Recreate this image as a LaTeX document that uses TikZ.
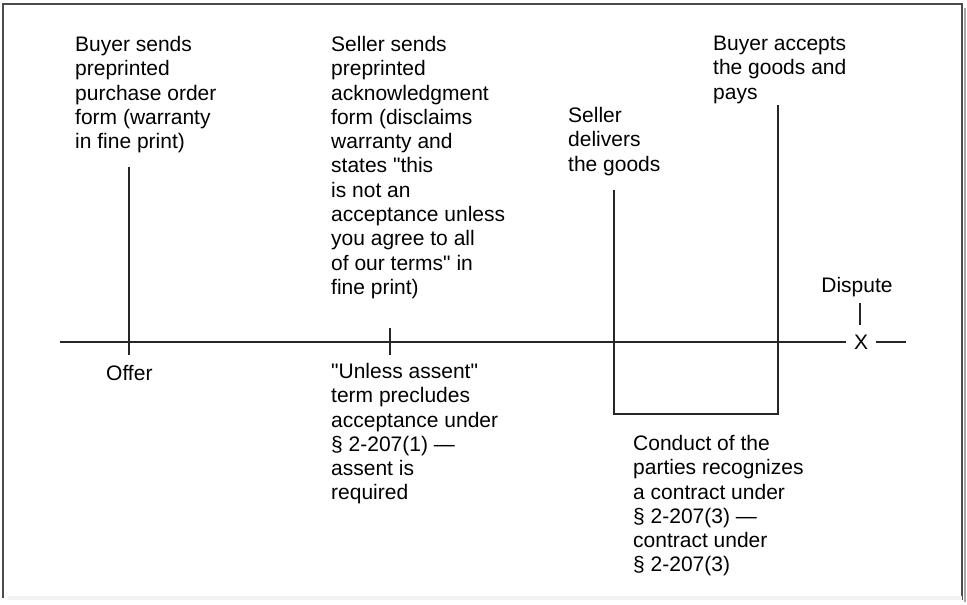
\documentclass[tikz,border=0pt]{standalone}
\usepackage{fontspec}
\setmainfont{Liberation Sans}
\begin{document}
\begin{tikzpicture}[x=1pt,y=-1pt,
  txt/.style={anchor=north west,inner sep=0pt,align=left,font=\fontsize{21}{24.3}\selectfont,execute at begin node=\strut},
  ln/.style={line width=1.2pt,black!85}]
\useasboundingbox (0,0) rectangle (967,605);
% frame
\draw[line width=1.5pt,black!70] (3,598) -- (3,4) -- (962,4) -- (962,600);
\fill[black!35] (963.5,8) rectangle (966,602);
\fill[black!5] (8,596) rectangle (962,600);
% events above the line
\node[txt] (buyer) at (75,36) {Buyer sends\\preprinted\\purchase order\\form (warranty\\in fine print)};
\node[txt] (seller) at (331,36) {Seller sends\\preprinted\\acknowledgment\\form (disclaims\\warranty and\\states \textquotedbl this\\is not an\\acceptance unless\\you agree to all\\of our terms\textquotedbl{} in\\fine print)};
\node[txt] (deliver) at (568,107) {Seller\\delivers\\the goods};
\node[txt] (accept) at (713,36) {Buyer accepts\\the goods and\\pays};
\node[anchor=base,inner sep=0pt,font=\fontsize{21}{24.3}\selectfont] (dispute) at (857,292) {Dispute};
% below the line
\node[txt] (offer) at (106,363) {Offer};
\node[txt] (unless) at (331,363) {\textquotedbl Unless assent\textquotedbl\\term precludes\\acceptance under\\§ 2-207(1) ---\\assent is\\required};
\node[txt] (conduct) at (633,435) {Conduct of the\\parties recognizes\\a contract under\\§ 2-207(3) ---\\contract under\\§ 2-207(3)};
% time line
\coordinate (axL) at (60,342);
\node[inner ysep=0pt,inner xsep=8pt,font=\fontsize{21}{24.3}\selectfont] (x) at (861,342) {X};
\coordinate (axR) at (906,342);
\draw[ln] (axL) -- (x.west);\draw[ln] (x.east) -- (axR);
\coordinate (o1) at (129,167);\coordinate (o2) at (129,355);
\coordinate (t1) at (390,328);\coordinate (t2) at (390,355);
\coordinate (d1) at (614,190);\coordinate (c1) at (614,414);
\coordinate (c2) at (778,414);\coordinate (a1) at (778,105);
\coordinate (p1) at (860,303);\coordinate (p2) at (860,325);
\draw[ln] (o1) -- (o2);\draw[ln] (t1) -- (t2);
\draw[ln] (d1) -- (c1) -- (c2) -- (a1);
\draw[ln] (p1) -- (p2);
\end{tikzpicture}
\end{document}
